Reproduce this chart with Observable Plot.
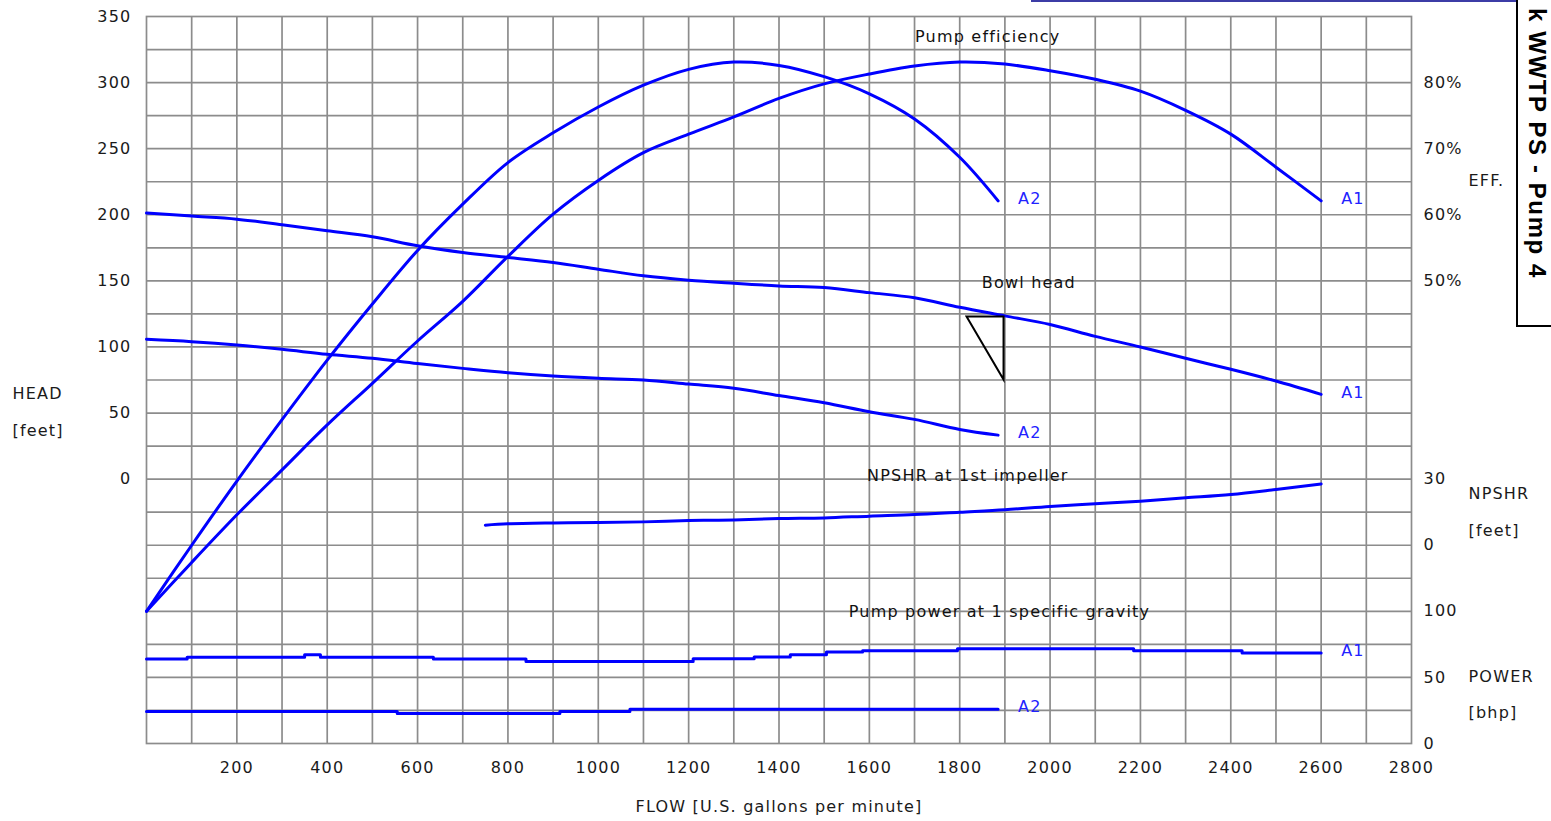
<!DOCTYPE html>
<html>
<head>
<meta charset="utf-8">
<script src="https://cdn.jsdelivr.net/npm/d3@7"></script>
<script src="https://cdn.jsdelivr.net/npm/@observablehq/plot@0.6"></script>
<style>
  html, body { margin: 0; padding: 0; background: #fff; }
  #wrap { position: relative; width: 1551px; height: 821px; overflow: hidden; background: #fff; }
  #chart { position: absolute; left: 0; top: 0; }
  #topline { position: absolute; left: 1031px; top: 0; width: 486px; height: 2px; background: #3c3ca6; }
  #titlebox { position: absolute; left: 1516px; top: -10px; width: 80px; height: 337px; border: 2px solid #000; background: #fff; box-sizing: border-box; }
  #titletext { position: absolute; left: 1527px; top: 8px; width: 21px; writing-mode: vertical-rl; line-height: 21px; font-family: "Liberation Sans", Arial, sans-serif; font-weight: bold; font-size: 24px; letter-spacing: 1.6px; color: #000; white-space: nowrap; }
</style>
</head>
<body>
<div id="wrap">
  <div id="chart"></div>
  <div id="topline"></div>
  <div id="titlebox"></div>
  <div id="titletext">k WWTP PS - Pump 4</div>
</div>
<script>
// ---- Data ----
const flowA1 = [0,100,200,300,400,500,600,700,800,900,1000,1100,1200,1300,1400,1500,1600,1700,1800,1900,2000,2100,2200,2300,2400,2500,2600];
const headA1 = [201.3,199.0,196.7,192.4,187.9,183.3,176.5,171.4,167.7,163.9,158.8,153.8,150.5,148.2,146.2,144.9,141.1,137.2,130.0,123.5,117.0,108.0,100.0,91.4,83.1,74.2,64.1];
const effA1  = [0,7.4,14.6,21.4,28.2,34.5,40.9,46.9,53.7,60.1,65.2,69.4,72.2,74.8,77.6,79.8,81.3,82.5,83.1,82.8,81.8,80.5,78.7,75.8,72.2,67.2,62.1];

const flowA2 = [0,100,200,300,400,500,600,700,800,900,1000,1100,1200,1300,1400,1500,1600,1700,1800,1885];
const headA2 = [105.8,104.0,101.5,98.2,94.4,91.4,87.4,83.8,80.5,78.0,76.3,75.0,71.9,68.7,63.2,57.8,51.0,45.2,37.6,33.3];
const effA2  = [0,10.0,19.7,29.0,38.0,46.5,54.6,61.6,67.9,72.4,76.3,79.6,82.0,83.1,82.6,80.9,78.3,74.5,68.7,62.1];

const npshFlow = [750,800,900,1000,1100,1200,1300,1400,1500,1600,1700,1800,1900,2000,2100,2200,2300,2400,2500,2600];
const npshr    = [9.1,9.7,10.1,10.3,10.6,11.2,11.5,12.1,12.4,13.2,13.9,15.0,16.1,17.6,18.8,20.0,21.5,23.0,25.3,27.8];

const powerFlowA1 = [0,90,350,385,635,840,1210,1345,1425,1505,1585,1795,2185,2425,2600];
const powerA1     = [63.9,65.2,67.2,65.2,63.9,62.1,64.2,65.4,67.2,69.2,70.2,71.6,70.2,68.4,68.4];
const powerFlowA2 = [0,555,915,1070,1885];
const powerA2     = [24.2,22.7,24.2,26.0,26.0];

const dutyFlow = 1897;
const dutyHead = 123;

const flowTicks = [200,400,600,800,1000,1200,1400,1600,1800,2000,2200,2400,2600,2800];
const headTicks = [0,50,100,150,200,250,300,350];
const effTicks = [50,60,70,80];
const npshTicks = [0,30];
const powerTicks = [0,50,100];

// ---- Mapping of secondary quantities onto the shared vertical scale ----
const effToY = e => 150 + (e - 50) * 5;
const npshToY = n => -50 + n * 50 / 30;
const powerToY = p => -200 + p;

const zip = (xs, ys, f = v => v) => xs.map((x, i) => ({x, y: f(ys[i])}));
const series = [
  {name: "A1", kind: "head",  pts: zip(flowA1, headA1)},
  {name: "A2", kind: "head",  pts: zip(flowA2, headA2)},
  {name: "A1", kind: "eff",   pts: zip(flowA1, effA1, effToY)},
  {name: "A2", kind: "eff",   pts: zip(flowA2, effA2, effToY)},
  {name: "A1", kind: "power", pts: zip(powerFlowA1, powerA1, powerToY)},
  {name: "A2", kind: "power", pts: zip(powerFlowA2, powerA2, powerToY)}
];
const npshPts = zip(npshFlow, npshr, npshToY);

const blue = "#0000ff";
const gridColor = "#8c8c8c";
const lineMarks = series.map(s => Plot.line(s.pts, {
  x: "x", y: "y", stroke: blue, strokeWidth: 3,
  curve: s.kind === "power" ? "step-after" : "catmull-rom"
}));
const endLabels = series.map(s => Plot.text([s.pts[s.pts.length - 1]], {
  x: "x", y: "y", text: () => s.name, dx: 20, dy: -2, textAnchor: "start", fill: "#2222ff"
}));

const triangle = {
  draw(ctx) { ctx.moveTo(-37, 0); ctx.lineTo(0, 0); ctx.lineTo(0, 63); ctx.closePath(); }
};

const chart = Plot.plot({
  width: 1551,
  height: 821,
  marginLeft: 146,
  marginRight: 140,
  marginTop: 16,
  marginBottom: 78,
  x: {domain: [0, 2800]},
  y: {domain: [-200, 350]},
  style: {fontFamily: "'DejaVu Sans', Verdana, sans-serif", fontSize: "16px", color: "#1a1a1a", background: "#fff", letterSpacing: "1.2px"},
  marks: [
    Plot.gridX({ticks: d3.range(100, 2800, 100), stroke: gridColor, strokeOpacity: 1, strokeWidth: 1.7}),
    Plot.gridY({ticks: d3.range(-175, 350, 25), stroke: gridColor, strokeOpacity: 1, strokeWidth: 1.7}),
    Plot.frame({stroke: gridColor, strokeWidth: 1.7}),
    Plot.axisX({ticks: flowTicks, tickSize: 0, tickPadding: 18, tickFormat: d => String(d), label: null}),
    Plot.axisY({ticks: headTicks, tickSize: 0, tickPadding: 15, tickFormat: d => String(d), label: null}),
    Plot.text(effTicks, {y: effToY, text: d => d + "%", frameAnchor: "right", dx: 12, textAnchor: "start"}),
    Plot.text(npshTicks, {y: npshToY, text: d => String(d), frameAnchor: "right", dx: 12, textAnchor: "start"}),
    Plot.text(powerTicks, {y: powerToY, text: d => String(d), frameAnchor: "right", dx: 12, textAnchor: "start"}),
    // axis titles
    Plot.text(["FLOW [U.S. gallons per minute]"], {frameAnchor: "bottom", dy: 68}),
    Plot.text(["HEAD"], {frameAnchor: "left", dx: -134, dy: 14, textAnchor: "start"}),
    Plot.text(["[feet]"], {frameAnchor: "left", dx: -134, dy: 51, textAnchor: "start"}),
    Plot.text(["EFF."], {frameAnchor: "right", dx: 57, dy: -199, textAnchor: "start"}),
    Plot.text(["NPSHR"], {frameAnchor: "right", dx: 57, dy: 114, textAnchor: "start"}),
    Plot.text(["[feet]"], {frameAnchor: "right", dx: 57, dy: 151, textAnchor: "start"}),
    Plot.text(["POWER"], {frameAnchor: "right", dx: 57, dy: 297, textAnchor: "start"}),
    Plot.text(["[bhp]"], {frameAnchor: "right", dx: 57, dy: 333, textAnchor: "start"}),
    // curves
    ...lineMarks,
    Plot.line(npshPts, {x: "x", y: "y", stroke: blue, strokeWidth: 3, curve: "catmull-rom"}),
    ...endLabels,
    // curve group titles
    Plot.text(["Pump efficiency"], {x: 1862, y: effToY(86.9), fill: "#111"}),
    Plot.text(["Bowl head"], {x: 1953, y: 148.7, fill: "#111"}),
    Plot.text(["NPSHR at 1st impeller"], {x: 1818, y: npshToY(31.6), fill: "#111"}),
    Plot.text(["Pump power at 1 specific gravity"], {x: 1888, y: powerToY(99.8), fill: "#111"}),
    // duty point marker
    Plot.dot([{x: dutyFlow, y: dutyHead}], {x: "x", y: "y", symbol: triangle, r: 10, fill: "none", stroke: "#000", strokeWidth: 2})
  ]
});
document.getElementById("chart").appendChild(chart);
</script>
</body>
</html>
